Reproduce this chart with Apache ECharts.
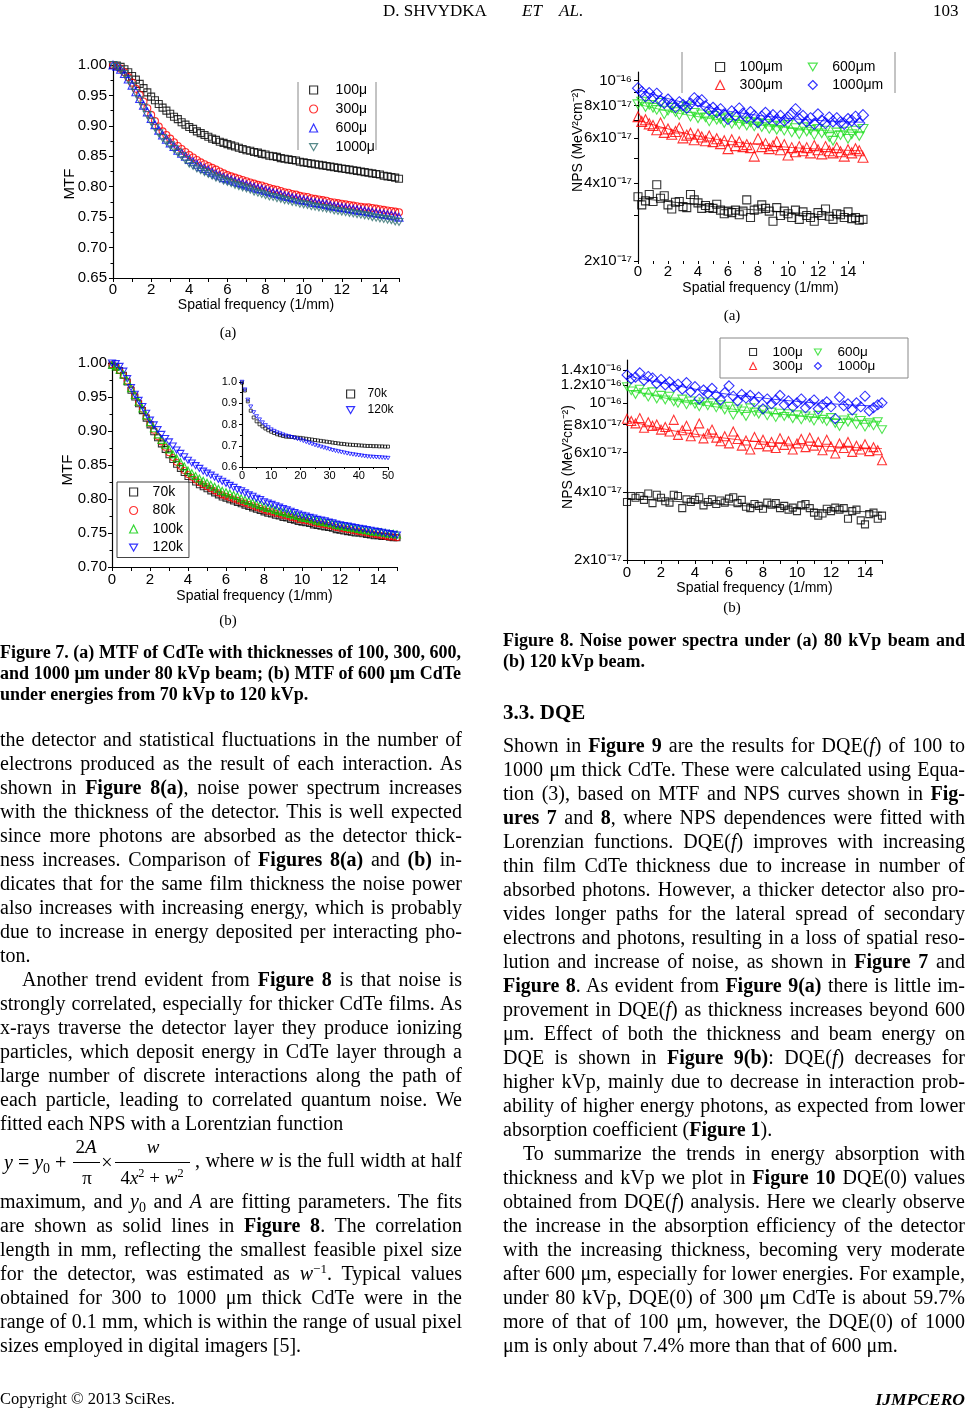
<!DOCTYPE html>
<html><head><meta charset="utf-8">
<script src="https://cdn.jsdelivr.net/npm/echarts@6/dist/echarts.min.js"></script>
<style>
html,body{margin:0;padding:0;background:#fff;}
#page{position:relative;width:967px;height:1415px;overflow:hidden;font-family:"Liberation Serif","Times New Roman",serif;color:#000;}
#chart{position:absolute;left:0;top:0;width:967px;height:1415px;}
.t{position:absolute;white-space:nowrap;font-size:20px;line-height:24px;}
.j{text-align:justify;text-align-last:justify;}
.cap{font-weight:bold;font-size:18px;line-height:21px;}
sub{font-size:0.7em;vertical-align:-0.25em;line-height:0;}
sup{font-size:0.65em;vertical-align:0.55em;line-height:0;}
.c{transform:translateX(-50%);}
.bar{position:absolute;height:1px;background:#000;}
</style></head>
<body><div id="page"><div id="chart"></div></div>
<script>
// ---------------- DATA ----------------
const mtfX = [0,0.2,0.4,0.6,0.8,1,1.2,1.4,1.6,1.8,
2,2.2,2.4,2.6,2.8,3,3.2,3.4,3.6,3.8,
4,4.2,4.4,4.6,4.8,5,5.2,5.4,5.6,5.8,
6,6.2,6.4,6.6,6.8,7,7.2,7.4,7.6,7.8,
8,8.2,8.4,8.6,8.8,9,9.2,9.4,9.6,9.8,
10,10.2,10.4,10.6,10.8,11,11.2,11.4,11.6,11.8,
12,12.2,12.4,12.6,12.8,13,13.2,13.4,13.6,13.8,
14,14.2,14.4,14.6,14.8,15];
// Figure 7(a): MTF vs thickness (80 kVp)
const mtf100 = [1.000,0.999,0.997,0.993,0.988,0.982,0.976,0.969,0.962,0.955,
0.948,0.942,0.936,0.930,0.925,0.920,0.915,0.911,0.906,0.902,
0.898,0.895,0.891,0.888,0.885,0.882,0.879,0.877,0.874,0.872,
0.870,0.868,0.866,0.864,0.862,0.860,0.859,0.857,0.856,0.854,
0.853,0.851,0.850,0.849,0.847,0.846,0.845,0.844,0.843,0.841,
0.840,0.839,0.838,0.837,0.836,0.835,0.834,0.833,0.832,0.831,
0.830,0.829,0.828,0.827,0.826,0.825,0.824,0.823,0.822,0.821,
0.820,0.818,0.817,0.816,0.815,0.813];
const mtf300 = [1.000,0.998,0.994,0.988,0.980,0.971,0.961,0.951,0.940,0.929,
0.918,0.908,0.899,0.891,0.885,0.879,0.873,0.867,0.862,0.857,
0.852,0.848,0.844,0.840,0.837,0.834,0.831,0.828,0.825,0.822,
0.819,0.817,0.815,0.813,0.811,0.809,0.807,0.805,0.803,0.802,
0.800,0.798,0.796,0.795,0.793,0.791,0.790,0.788,0.787,0.785,
0.784,0.783,0.781,0.780,0.779,0.778,0.777,0.775,0.774,0.773,
0.772,0.771,0.770,0.769,0.768,0.767,0.766,0.766,0.765,0.764,
0.763,0.762,0.761,0.760,0.759,0.758];
const mtf600 = [1.000,0.998,0.993,0.986,0.977,0.967,0.956,0.945,0.934,0.923,
0.912,0.902,0.893,0.885,0.878,0.872,0.866,0.860,0.855,0.850,
0.845,0.841,0.837,0.833,0.830,0.827,0.824,0.821,0.818,0.815,
0.813,0.811,0.809,0.807,0.805,0.803,0.801,0.799,0.797,0.796,
0.794,0.792,0.790,0.789,0.787,0.785,0.784,0.782,0.781,0.779,
0.778,0.777,0.775,0.774,0.773,0.772,0.771,0.769,0.768,0.767,
0.766,0.765,0.764,0.763,0.762,0.761,0.760,0.759,0.758,0.757,
0.756,0.755,0.754,0.753,0.752,0.750];
const mtf1000 = [1.000,0.997,0.992,0.985,0.976,0.966,0.954,0.942,0.930,0.918,
0.907,0.897,0.888,0.880,0.874,0.868,0.862,0.856,0.850,0.844,
0.838,0.834,0.830,0.827,0.824,0.821,0.818,0.815,0.813,0.810,
0.808,0.806,0.803,0.801,0.799,0.797,0.795,0.792,0.790,0.788,
0.786,0.784,0.783,0.781,0.780,0.778,0.777,0.775,0.774,0.772,
0.771,0.770,0.768,0.767,0.766,0.765,0.764,0.763,0.761,0.760,
0.759,0.758,0.757,0.756,0.755,0.754,0.753,0.752,0.750,0.749,
0.748,0.747,0.746,0.745,0.743,0.742];
// Figure 7(b): MTF of 600 um vs energy
const mtf70k = [0.997,0.994,0.989,0.982,0.972,0.960,0.950,0.940,0.930,0.919,
0.909,0.899,0.890,0.881,0.873,0.865,0.858,0.851,0.845,0.839,
0.833,0.829,0.825,0.821,0.818,0.815,0.812,0.809,0.806,0.803,
0.801,0.799,0.797,0.795,0.793,0.791,0.789,0.787,0.785,0.783,
0.781,0.779,0.778,0.776,0.775,0.773,0.772,0.770,0.769,0.767,
0.766,0.765,0.764,0.762,0.761,0.760,0.759,0.758,0.757,0.755,
0.754,0.753,0.752,0.751,0.750,0.750,0.749,0.748,0.747,0.746,
0.746,0.745,0.745,0.744,0.743,0.743];
const mtf80k = [0.997,0.994,0.989,0.982,0.973,0.962,0.952,0.942,0.932,0.921,
0.911,0.901,0.892,0.884,0.876,0.868,0.861,0.854,0.848,0.842,
0.836,0.832,0.828,0.824,0.821,0.818,0.815,0.812,0.809,0.806,
0.804,0.802,0.800,0.798,0.796,0.794,0.792,0.790,0.788,0.786,
0.784,0.782,0.781,0.779,0.778,0.776,0.775,0.773,0.772,0.770,
0.769,0.768,0.767,0.765,0.764,0.763,0.762,0.761,0.760,0.758,
0.757,0.756,0.755,0.754,0.753,0.752,0.751,0.750,0.749,0.748,
0.747,0.746,0.745,0.744,0.744,0.743];
const mtf100k = [0.997,0.995,0.990,0.983,0.974,0.963,0.953,0.943,0.933,0.923,
0.913,0.904,0.895,0.887,0.880,0.873,0.866,0.860,0.854,0.848,
0.842,0.838,0.834,0.830,0.827,0.824,0.821,0.818,0.815,0.812,
0.810,0.808,0.806,0.804,0.801,0.799,0.797,0.795,0.793,0.791,
0.789,0.787,0.786,0.784,0.782,0.781,0.779,0.778,0.776,0.775,
0.773,0.772,0.771,0.770,0.768,0.767,0.766,0.765,0.764,0.762,
0.761,0.760,0.759,0.758,0.757,0.756,0.755,0.754,0.753,0.752,
0.752,0.751,0.750,0.749,0.749,0.748];
const mtf120k = [1.000,0.999,0.995,0.988,0.977,0.964,0.954,0.945,0.936,0.926,
0.916,0.909,0.902,0.895,0.889,0.884,0.878,0.872,0.867,0.862,
0.857,0.853,0.849,0.845,0.841,0.838,0.835,0.832,0.829,0.826,
0.823,0.820,0.817,0.814,0.812,0.809,0.806,0.804,0.801,0.799,
0.796,0.794,0.792,0.790,0.788,0.786,0.784,0.782,0.780,0.778,
0.776,0.775,0.773,0.772,0.770,0.769,0.768,0.766,0.765,0.763,
0.762,0.761,0.760,0.759,0.758,0.757,0.756,0.755,0.754,0.753,
0.752,0.751,0.750,0.749,0.748,0.747];
// Figure 7(b) inset, 0-50 1/mm
const insetX = [0,1,2,3,4,5,6,7,8,9,10,11,12,13,14,15,16,17,18,19,20,21,22,23,24,25,
26,27,28,29,30,31,32,33,34,35,36,37,38,39,40,41,42,43,44,45,46,47,48,49,50];
const inset70k = [0.997,0.960,0.909,0.865,0.833,0.815,0.801,0.791,0.781,0.773,
0.766,0.760,0.754,0.750,0.746,0.743,0.742,0.741,0.740,0.738,
0.737,0.735,0.733,0.731,0.729,0.727,0.725,0.723,0.721,0.719,
0.717,0.715,0.713,0.711,0.709,0.708,0.706,0.705,0.704,0.703,
0.702,0.701,0.700,0.699,0.699,0.698,0.698,0.697,0.697,0.696,0.696];
const inset120k = [1.000,0.964,0.916,0.884,0.857,0.838,0.823,0.809,0.796,0.786,
0.776,0.769,0.762,0.757,0.752,0.747,0.744,0.740,0.736,0.732,
0.728,0.723,0.718,0.713,0.708,0.703,0.699,0.695,0.691,0.687,
0.683,0.679,0.676,0.673,0.670,0.667,0.664,0.661,0.659,0.657,
0.655,0.653,0.651,0.649,0.648,0.647,0.646,0.645,0.644,0.643,0.642];
// Figure 8: NPS in units of 1e-17 MeV^2 cm^-2
const npsX = [0,0.25,0.5,0.75,1,1.25,1.5,1.75,2,2.25,
2.5,2.75,3,3.25,3.5,3.75,4,4.25,4.5,4.75,
5,5.25,5.5,5.75,6,6.25,6.5,6.75,7,7.25,
7.5,7.75,8,8.25,8.5,8.75,9,9.25,9.5,9.75,
10,10.25,10.5,10.75,11,11.25,11.5,11.75,12,12.25,
12.5,12.75,13,13.25,13.5,13.75,14,14.25,14.5,14.75,15];
const npsA100 = [3.55,3.30,3.42,3.62,3.40,3.95,3.50,3.58,3.30,3.18,
3.38,3.40,3.25,3.22,3.62,3.45,3.36,3.20,3.28,3.22,
3.20,3.32,3.15,3.05,3.12,3.08,3.15,3.02,3.12,3.45,
2.95,3.15,3.18,3.30,3.20,3.12,2.85,3.22,3.00,3.12,
3.05,2.95,3.15,2.90,3.10,3.00,2.95,2.85,3.08,3.00,
3.18,2.98,2.90,3.05,3.02,2.95,3.10,2.92,2.95,2.88,2.90];
const npsA300 = [7.25,6.95,7.05,6.80,6.70,6.45,6.85,6.30,6.50,6.20,
6.35,6.55,6.00,6.15,6.25,5.90,6.20,6.05,5.85,6.10,
5.80,5.95,5.70,5.85,5.45,5.90,5.60,5.80,5.55,5.65,
5.50,5.10,5.95,5.55,5.70,5.45,5.60,5.80,5.40,5.65,
5.15,5.50,5.30,5.55,5.35,5.50,5.25,5.60,5.40,5.20,
5.55,5.35,5.25,5.50,5.30,5.10,5.40,5.25,5.45,5.35,5.05];
const npsA600 = [8.10,8.30,7.90,8.05,7.85,7.70,8.20,7.40,7.65,7.85,
7.55,7.35,7.70,7.95,7.25,7.50,7.15,7.40,7.20,6.95,
7.30,7.05,7.10,6.85,7.20,6.80,7.00,6.75,6.95,6.70,
6.90,6.65,6.85,6.60,6.80,6.50,6.70,6.45,6.65,6.40,
6.75,6.30,6.55,6.20,6.60,6.35,6.45,6.15,6.50,6.25,
6.40,6.05,5.85,6.30,6.15,6.35,5.95,6.20,6.40,6.10,6.50];
const npsA1000 = [9.35,9.05,8.70,8.95,8.60,8.90,8.35,8.20,8.45,8.10,
7.90,8.25,8.05,7.85,8.15,8.55,8.30,8.40,7.95,7.70,
7.85,7.55,7.75,7.40,7.10,7.60,7.35,7.80,7.45,7.20,
7.55,7.30,6.90,7.25,7.50,7.15,7.35,7.05,7.30,7.00,
7.20,7.45,7.75,7.10,7.30,6.95,7.15,6.80,7.40,7.00,
6.85,7.20,6.95,7.15,6.90,6.80,7.10,7.00,7.25,6.85,7.35];
const npsB100 = [3.62,3.85,3.78,3.85,3.70,3.95,3.58,3.90,3.78,3.65,
3.60,3.90,3.85,3.40,3.72,3.62,3.70,3.80,3.50,3.62,
3.72,3.55,3.68,3.60,3.75,3.80,3.58,3.70,3.45,3.40,
3.55,3.48,3.38,3.60,3.52,3.58,3.40,3.48,3.35,3.42,
3.30,3.50,3.55,3.40,3.25,3.15,3.22,3.38,3.30,3.42,
3.35,3.40,3.05,3.30,3.35,3.00,2.88,3.20,3.25,3.05,3.15];
const npsB300 = [8.50,8.30,8.10,8.55,7.75,8.20,7.90,8.00,7.60,7.80,
7.45,8.40,7.20,7.55,7.90,7.10,7.40,8.10,6.95,7.30,
7.60,7.00,6.75,7.10,6.60,7.45,6.90,6.45,6.80,6.20,
7.05,6.55,6.85,6.40,6.70,6.30,6.95,6.50,6.75,6.20,
6.60,6.90,6.35,7.00,6.45,6.70,6.15,6.85,6.40,5.95,
6.60,6.30,6.70,6.05,6.45,6.20,6.55,6.10,6.35,6.15,5.55];
const npsB600 = [11.8,11.3,10.9,11.5,11.1,10.6,11.2,10.4,10.8,10.3,
10.7,10.1,9.95,10.4,9.80,10.2,9.85,9.60,10.1,9.70,
10.0,9.50,9.80,9.30,9.65,8.80,9.40,9.20,8.70,9.50,
9.10,8.90,9.30,8.75,9.10,8.60,9.00,8.70,8.95,8.50,
8.85,8.40,8.75,8.55,8.30,8.80,8.45,8.25,8.60,8.10,
7.85,8.40,8.20,8.55,8.00,8.35,7.80,8.15,7.90,8.25,7.60];
const npsB1000 = [13.3,12.8,13.0,13.6,12.6,13.1,12.9,12.2,12.7,12.0,
12.4,11.8,12.1,11.5,12.3,11.2,11.8,10.4,11.4,11.0,
11.6,10.8,10.3,11.1,11.9,10.7,10.2,10.9,10.5,10.8,
10.1,10.6,9.40,10.4,9.90,10.3,10.8,9.80,10.2,9.60,
10.0,10.4,9.50,9.90,10.3,9.40,9.80,10.1,9.60,8.50,
10.6,9.70,9.90,9.30,10.0,9.60,10.7,9.20,9.50,9.80,10.0];
// Lorentzian fit curves (same units)
const fitX = [0,1,2,3,4,5,6,7,8,9,10,11,12,13,14,15];
const fitA100 = [3.50,3.45,3.40,3.35,3.30,3.25,3.21,3.18,3.15,3.12,3.09,3.06,3.03,3.01,2.99,2.97];
const fitA300 = [7.05,6.75,6.50,6.28,6.10,5.95,5.83,5.73,5.65,5.58,5.52,5.47,5.43,5.40,5.37,5.34];
const fitA600 = [8.10,7.85,7.62,7.42,7.25,7.10,6.97,6.85,6.74,6.65,6.57,6.50,6.43,6.37,6.32,6.28];
const fitA1000 = [9.20,8.85,8.52,8.24,8.00,7.80,7.62,7.47,7.34,7.23,7.14,7.07,7.01,6.96,6.92,6.90];
const fitB100 = [3.75,3.72,3.68,3.64,3.60,3.56,3.52,3.48,3.45,3.42,3.39,3.36,3.33,3.30,3.28,3.26];
const fitB300 = [8.30,8.00,7.70,7.45,7.25,7.08,6.93,6.80,6.70,6.60,6.52,6.45,6.39,6.34,6.30,6.26];
const fitB600 = [11.4,11.0,10.6,10.2,9.90,9.65,9.42,9.22,9.05,8.90,8.76,8.64,8.53,8.43,8.34,8.26];
const fitB1000 = [13.2,12.7,12.3,11.9,11.5,11.2,10.9,10.7,10.5,10.3,10.15,10.0,9.90,9.80,9.72,9.65];
// Tick labels for the NPS axes
const npsTicksA = [2,4,6,8,10];
const npsLabelsA = ['2x10⁻¹⁷','4x10⁻¹⁷','6x10⁻¹⁷','8x10⁻¹⁷','10⁻¹⁶'];
const npsMinorA = [2,3,4,5,6,7,8,9,10];
const npsTicksB = [2,4,6,8,10,12,14];
const npsLabelsB = ['2x10⁻¹⁷','4x10⁻¹⁷','6x10⁻¹⁷','8x10⁻¹⁷','10⁻¹⁶','1.2x10⁻¹⁶','1.4x10⁻¹⁶'];
const legend7a = ['100μ','300μ','600μ','1000μ'];
const legend7b = ['70k','80k','100k','120k'];
const legend8a = ['100μm','300μm','600μm','1000μm'];
const legend8b = ['100μ ','300μ ','600μ ','1000μ '];
const legendInset = ['70k ','120k '];

// ---------------- CHART ----------------
const FONT = '"Liberation Sans", Arial, sans-serif';
const chart = echarts.init(document.getElementById('chart'));
const pairs = (xs, ys) => xs.map((x, i) => [x, ys[i]]);
const INV = 'path://M0,0 L10,0 L5,8.66 Z';
function sc(name, idx, xs, ys, symbol, color, size, bw) {
  return {type:'scatter', name, xAxisIndex:idx, yAxisIndex:idx, data:pairs(xs, ys),
    symbol, symbolSize:size, symbolKeepAspect:true, silent:true, emphasis:{disabled:true},
    itemStyle:{color:'rgba(0,0,0,0)', borderColor:color, borderWidth:bw || 1.1}};
}
function fit(idx, ys, color) {
  return {type:'line', xAxisIndex:idx, yAxisIndex:idx, data:pairs(fitX, ys), smooth:true,
    showSymbol:false, symbol:'none', silent:true, lineStyle:{color, width:1, opacity:0.75}, z:1};
}
const line = {show:true, onZero:false, lineStyle:{color:'#000', width:1.2}};
const tick = (len, extra) => Object.assign({show:true, length:len, lineStyle:{color:'#000', width:1}}, extra || {});
const evenLab = (v) => (Math.abs(v % 2) < 1e-6 && v < 15) ? String(Math.round(v)) : '';
function findLab(ticks, labels) {
  return (v) => { for (let i = 0; i < ticks.length; i++) if (Math.abs(ticks[i] - v) < 1e-6 * ticks[i] + 1e-9) return labels[i]; return ''; };
}
const xName = {name:'Spatial frequency (1/mm)', nameLocation:'middle', nameTextStyle:{fontSize:14, color:'#000', fontFamily:FONT}};
const lab = (fs, margin, formatter, extra) => Object.assign({color:'#000', fontSize:fs, margin, formatter, fontFamily:FONT}, extra || {});
const lt = (fs, padLeft) => ({fontSize:fs, color:'#000', fontFamily:FONT, padding:[0,0,0,padLeft]});

const C = {black:'#000000', red:'#ff0000', blue:'#0000ff', teal:'#2d6d6d', green:'#00cc00', green2:'#22dd22'};

const option = {
  animation:false,
  textStyle:{fontFamily:FONT, color:'#000'},
  grid:[
    {left:113, top:65, width:286, height:213, containLabel:false, outerBoundsMode:'none'},
    {left:112, top:363, width:285, height:204, containLabel:false, outerBoundsMode:'none'},
    {left:242, top:382, width:146, height:85, containLabel:false, outerBoundsMode:'none'},
    {left:638, top:72, width:225, height:189, containLabel:false, outerBoundsMode:'none'},
    {left:627, top:360, width:255, height:200, containLabel:false, outerBoundsMode:'none'}
  ],
  xAxis:[
    Object.assign({gridIndex:0, type:'value', min:0, max:15, interval:1, axisLine:line, axisTick:tick(4), splitLine:{show:false},
      axisLabel:lab(15, 4, evenLab), nameGap:20}, xName),
    Object.assign({gridIndex:1, type:'value', min:0, max:15, interval:1, axisLine:line, axisTick:tick(4), splitLine:{show:false},
      axisLabel:lab(15, 5, evenLab), nameGap:22}, xName),
    {gridIndex:2, type:'value', min:0, max:50, interval:10, axisLine:line, axisTick:tick(3), minorTick:{show:true, splitNumber:2, length:2, lineStyle:{color:'#000'}},
      splitLine:{show:false}, axisLabel:lab(11, 3, v => String(v))},
    Object.assign({gridIndex:3, type:'value', min:0, max:15, interval:1, axisLine:{show:false}, axisTick:tick(3), splitLine:{show:false},
      axisLabel:lab(15, 3, evenLab), nameGap:20}, xName, {nameTextStyle:{fontSize:14, color:'#000', fontFamily:FONT, padding:[0,0,0,20]}}),
    Object.assign({gridIndex:4, type:'value', min:0, max:15, interval:1, axisLine:line, axisTick:tick(4), splitLine:{show:false},
      axisLabel:lab(15, 5, evenLab), nameGap:21}, xName)
  ],
  yAxis:[
    {gridIndex:0, type:'value', min:0.65, max:1.0, interval:0.05, axisLine:line, axisTick:tick(4),
      minorTick:{show:true, splitNumber:2, length:2.5, lineStyle:{color:'#000'}}, splitLine:{show:false}, minorSplitLine:{show:false},
      axisLabel:lab(15, 6, v => v.toFixed(2))},
    {gridIndex:1, type:'value', min:0.70, max:1.0, interval:0.05, axisLine:line, axisTick:tick(4),
      minorTick:{show:true, splitNumber:2, length:2.5, lineStyle:{color:'#000'}}, splitLine:{show:false}, minorSplitLine:{show:false},
      axisLabel:lab(15, 5, v => v.toFixed(2))},
    {gridIndex:2, type:'value', min:0.6, max:1.0, interval:0.1, axisLine:line, axisTick:tick(3),
      minorTick:{show:true, splitNumber:2, length:2, lineStyle:{color:'#000'}}, splitLine:{show:false}, minorSplitLine:{show:false},
      axisLabel:lab(11, 5, v => v.toFixed(1))},
    {gridIndex:3, type:'log', logBase:10, min:2, max:10.8, axisLine:line, splitLine:{show:false}, minorSplitLine:{show:false},
      axisTick:tick(4, {customValues:npsMinorA}), axisLabel:lab(15, 6, findLab(npsTicksA, npsLabelsA), {customValues:npsTicksA})},
    {gridIndex:4, type:'log', logBase:10, min:2, max:15.5, axisLine:line, splitLine:{show:false}, minorSplitLine:{show:false},
      axisTick:tick(4, {customValues:npsTicksB}), axisLabel:lab(15, 5, findLab(npsTicksB, npsLabelsB), {customValues:npsTicksB})}
  ],
  legend:[
    {data:legend7a, orient:'vertical', left:309, top:83, itemWidth:8, itemHeight:8, itemGap:5, padding:0,
      itemStyle:{borderWidth:1.2}, textStyle:lt(14, 13), selectedMode:false},
    {data:legend7b, orient:'vertical', left:117, top:482, itemWidth:8, itemHeight:8, itemGap:4.5, padding:[3,6,3,12],
      borderColor:'#444', borderWidth:1, itemStyle:{borderWidth:1.2}, textStyle:lt(14, 10), selectedMode:false},
    {data:legendInset, orient:'vertical', left:346, top:388, itemWidth:8, itemHeight:8, itemGap:4, padding:0,
      itemStyle:{borderWidth:1.2}, formatter:n => n.trim(), textStyle:lt(12, 8), selectedMode:false},
    {data:[legend8a[0], legend8a[2]], orient:'horizontal', left:715, top:60, itemWidth:9, itemHeight:9, itemGap:25, padding:0,
      itemStyle:{borderWidth:1.2}, textStyle:lt(14, 10), selectedMode:false},
    {data:[legend8a[1], legend8a[3]], orient:'horizontal', left:715, top:78, itemWidth:9, itemHeight:9, itemGap:25, padding:0,
      itemStyle:{borderWidth:1.2}, textStyle:lt(14, 10), selectedMode:false},
    {data:[legend8b[0], legend8b[2]], orient:'horizontal', left:749, top:345, itemWidth:7, itemHeight:7, itemGap:11, padding:0,
      itemStyle:{borderWidth:1.1}, formatter:n => n.trim(), textStyle:lt(13.5, 11), selectedMode:false},
    {data:[legend8b[1], legend8b[3]], orient:'horizontal', left:749, top:359, itemWidth:7, itemHeight:7, itemGap:11, padding:0,
      itemStyle:{borderWidth:1.1}, formatter:n => n.trim(), textStyle:lt(13.5, 11), selectedMode:false}
  ],
  graphic:[
    {type:'line', shape:{x1:298, y1:82, x2:298, y2:150}, style:{stroke:'#888', lineWidth:1}},
    {type:'line', shape:{x1:376, y1:82, x2:376, y2:150}, style:{stroke:'#888', lineWidth:1}},
    {type:'line', shape:{x1:682, y1:52, x2:682, y2:93}, style:{stroke:'#888', lineWidth:1}},
    {type:'line', shape:{x1:895, y1:52, x2:895, y2:93}, style:{stroke:'#888', lineWidth:1}},
    {type:'rect', shape:{x:720, y:338, width:188, height:40}, style:{stroke:'#888', fill:'none', lineWidth:1}},
    {type:'text', x:70, y:184, rotation:Math.PI/2, style:{text:'MTF', fontSize:15, fontFamily:FONT, fill:'#000', align:'center', verticalAlign:'middle'}},
    {type:'text', x:68, y:470, rotation:Math.PI/2, style:{text:'MTF', fontSize:15, fontFamily:FONT, fill:'#000', align:'center', verticalAlign:'middle'}},
    {type:'text', x:578, y:140, rotation:Math.PI/2, style:{text:'NPS (MeV²cm⁻²)', fontSize:14, fontFamily:FONT, fill:'#000', align:'center', verticalAlign:'middle'}},
    {type:'text', x:568, y:457, rotation:Math.PI/2, style:{text:'NPS (MeV²cm⁻²)', fontSize:14, fontFamily:FONT, fill:'#000', align:'center', verticalAlign:'middle'}}
  ],
  series:[
    sc(legend7a[0], 0, mtfX, mtf100, 'rect', C.black, 7),
    sc(legend7a[1], 0, mtfX, mtf300, 'circle', C.red, 7),
    sc(legend7a[2], 0, mtfX, mtf600, 'triangle', C.blue, 8),
    sc(legend7a[3], 0, mtfX, mtf1000, INV, C.teal, 8),
    sc(legend7b[0], 1, mtfX, mtf70k, 'rect', C.black, 6),
    sc(legend7b[1], 1, mtfX, mtf80k, 'circle', C.red, 6),
    sc(legend7b[2], 1, mtfX, mtf100k, 'triangle', C.green, 7),
    sc(legend7b[3], 1, mtfX, mtf120k, INV, C.blue, 7),
    sc(legendInset[0], 2, insetX, inset70k, 'rect', C.black, 3, 0.9),
    sc(legendInset[1], 2, insetX, inset120k, INV, C.blue, 4, 0.9),
    sc(legend8a[0], 3, npsX, npsA100, 'rect', C.black, 8),
    sc(legend8a[1], 3, npsX, npsA300, 'triangle', C.red, 10),
    sc(legend8a[2], 3, npsX, npsA600, INV, C.green2, 10),
    sc(legend8a[3], 3, npsX, npsA1000, 'diamond', C.blue, 11),
    fit(3, fitA100, C.black), fit(3, fitA300, C.red), fit(3, fitA600, C.green2), fit(3, fitA1000, C.blue),
    sc(legend8b[0], 4, npsX, npsB100, 'rect', C.black, 7),
    sc(legend8b[1], 4, npsX, npsB300, 'triangle', C.red, 9),
    sc(legend8b[2], 4, npsX, npsB600, INV, C.green2, 9),
    sc(legend8b[3], 4, npsX, npsB1000, 'diamond', C.blue, 10),
    fit(4, fitB100, C.black), fit(4, fitB300, C.red), fit(4, fitB600, C.green2), fit(4, fitB1000, C.blue)
  ]
};
chart.setOption(option);

// ---------------- TEXT ----------------
const page = document.getElementById('page');
function put(html, style, cls) {
  const d = document.createElement('div');
  d.className = 't ' + (cls || '');
  d.innerHTML = html;
  Object.assign(d.style, style);
  page.appendChild(d);
  return d;
}
function column(lines, left, width, top0, step) {
  lines.forEach((ln, i) => {
    const [html, just, indent] = ln;
    put(html, {left:(left + (indent || 0)) + 'px', width:(width - (indent || 0)) + 'px', top:(top0 + i * step) + 'px'}, just ? 'j' : '');
  });
}
// header / footer
put('D. SHVYDKA', {left:'383px', top:'1px', fontSize:'17px', lineHeight:'20px'});
put('<i>ET</i>', {left:'522px', top:'1px', fontSize:'17px', lineHeight:'20px'});
put('<i>AL</i>.', {left:'559px', top:'1px', fontSize:'17px', lineHeight:'20px'});
put('103', {left:'933px', top:'1px', fontSize:'17px', lineHeight:'20px'});
put('Copyright © 2013 SciRes.', {left:'0px', top:'1389px', fontSize:'16.5px', lineHeight:'20px'});
put('<b><i>IJMPCERO</i></b>', {right:'2px', top:'1389px', fontSize:'17.5px', lineHeight:'20px'});
// sub-figure labels
put('(a)', {left:'228px', top:'323px', fontSize:'15px', lineHeight:'18px'}, 'c');
put('(b)', {left:'228px', top:'611px', fontSize:'15px', lineHeight:'18px'}, 'c');
put('(a)', {left:'732px', top:'306px', fontSize:'15px', lineHeight:'18px'}, 'c');
put('(b)', {left:'732px', top:'598px', fontSize:'15px', lineHeight:'18px'}, 'c');
// captions
[['Figure 7. (a) MTF of CdTe with thicknesses of 100, 300, 600,', true],
 ['and 1000 μm under 80 kVp beam; (b) MTF of 600 μm CdTe', true],
 ['under energies from 70 kVp to 120 kVp.', false]].forEach((c, i) =>
  put(c[0], {left:'0px', width:'461px', top:(642 + i * 21) + 'px'}, 'cap ' + (c[1] ? 'j' : '')));
[['Figure 8. Noise power spectra under (a) 80 kVp beam and', true],
 ['(b) 120 kVp beam.', false]].forEach((c, i) =>
  put(c[0], {left:'503px', width:'462px', top:(630 + i * 21) + 'px'}, 'cap ' + (c[1] ? 'j' : '')));
put('<b>3.3. DQE</b>', {left:'503px', top:'700px', fontSize:'21px'});

column([
 ['the detector and statistical fluctuations in the number of', true],
 ['electrons produced as the result of each interaction. As', true],
 ['shown in <b>Figure 8(a)</b>, noise power spectrum increases', true],
 ['with the thickness of the detector. This is well expected', true],
 ['since more photons are absorbed as the detector thick-', true],
 ['ness increases. Comparison of <b>Figures 8(a)</b> and <b>(b)</b> in-', true],
 ['dicates that for the same film thickness the noise power', true],
 ['also increases with increasing energy, which is probably', true],
 ['due to increase in energy deposited per interacting pho-', true],
 ['ton.', false],
 ['Another trend evident from <b>Figure 8</b> is that noise is', true, 22],
 ['strongly correlated, especially for thicker CdTe films. As', true],
 ['x-rays traverse the detector layer they produce ionizing', true],
 ['particles, which deposit energy in CdTe layer through a', true],
 ['large number of discrete interactions along the path of', true],
 ['each particle, leading to correlated quantum noise. We', true],
 ['fitted each NPS with a Lorentzian function', false]
], 0, 462, 727, 24);
column([
 ['maximum, and <i>y</i><sub>0</sub> and <i>A</i> are fitting parameters. The fits', true],
 ['are shown as solid lines in <b>Figure 8</b>. The correlation', true],
 ['length in mm, reflecting the smallest feasible pixel size', true],
 ['for the detector, was estimated as <i>w</i><sup>−1</sup>. Typical values', true],
 ['obtained for 300 to 1000 μm thick CdTe were in the', true],
 ['range of 0.1 mm, which is within the range of usual pixel', true],
 ['sizes employed in digital imagers [5].', false]
], 0, 462, 1189, 24);
// equation
put('<i>y</i> = <i>y</i><sub>0</sub> +', {left:'4px', top:'1150px'});
put('2<i>A</i>', {left:'86px', top:'1135px', fontSize:'19px'}, 'c');
put('π', {left:'87px', top:'1166px', fontSize:'19px'}, 'c');
put('×', {left:'107px', top:'1150px'}, 'c');
put('<i>w</i>', {left:'153px', top:'1135px', fontSize:'19px'}, 'c');
put('4<i>x</i><sup>2</sup> + <i>w</i><sup>2</sup>', {left:'152px', top:'1166px', fontSize:'19px'}, 'c');
[[73, 27], [115, 75]].forEach(b => { const d = document.createElement('div'); d.className = 'bar';
  Object.assign(d.style, {left:b[0] + 'px', width:b[1] + 'px', top:'1162px'}); page.appendChild(d); });
put(', where <i>w</i> is the full width at half', {left:'195px', width:'267px', top:'1148px'}, 'j');

column([
 ['Shown in <b>Figure 9</b> are the results for DQE(<i>f</i>) of 100 to', true],
 ['1000 μm thick CdTe. These were calculated using Equa-', true],
 ['tion (3), based on MTF and NPS curves shown in <b>Fig-</b>', true],
 ['<b>ures 7</b> and <b>8</b>, where NPS dependences were fitted with', true],
 ['Lorenzian functions. DQE(<i>f</i>) improves with increasing', true],
 ['thin film CdTe thickness due to increase in number of', true],
 ['absorbed photons. However, a thicker detector also pro-', true],
 ['vides longer paths for the lateral spread of secondary', true],
 ['electrons and photons, resulting in a loss of spatial reso-', true],
 ['lution and increase of noise, as shown in <b>Figure 7</b> and', true],
 ['<b>Figure 8</b>. As evident from <b>Figure 9(a)</b> there is little im-', true],
 ['provement in DQE(<i>f</i>) as thickness increases beyond 600', true],
 ['μm. Effect of both the thickness and beam energy on', true],
 ['DQE is shown in <b>Figure 9(b)</b>: DQE(<i>f</i>) decreases for', true],
 ['higher kVp, mainly due to decrease in interaction prob-', true],
 ['ability of higher energy photons, as expected from lower', true],
 ['absorption coefficient (<b>Figure 1</b>).', false],
 ['To summarize the trends in energy absorption with', true, 20],
 ['thickness and kVp we plot in <b>Figure 10</b> DQE(0) values', true],
 ['obtained from DQE(<i>f</i>) analysis. Here we clearly observe', true],
 ['the increase in the absorption efficiency of the detector', true],
 ['with the increasing thickness, becoming very moderate', true],
 ['after 600 μm, especially for lower energies. For example,', true],
 ['under 80 kVp, DQE(0) of 300 μm CdTe is about 59.7%', true],
 ['more of that of 100 μm, however, the DQE(0) of 1000', true],
 ['μm is only about 7.4% more than that of 600 μm.', false]
], 503, 462, 733, 24);
</script>
</body></html>
